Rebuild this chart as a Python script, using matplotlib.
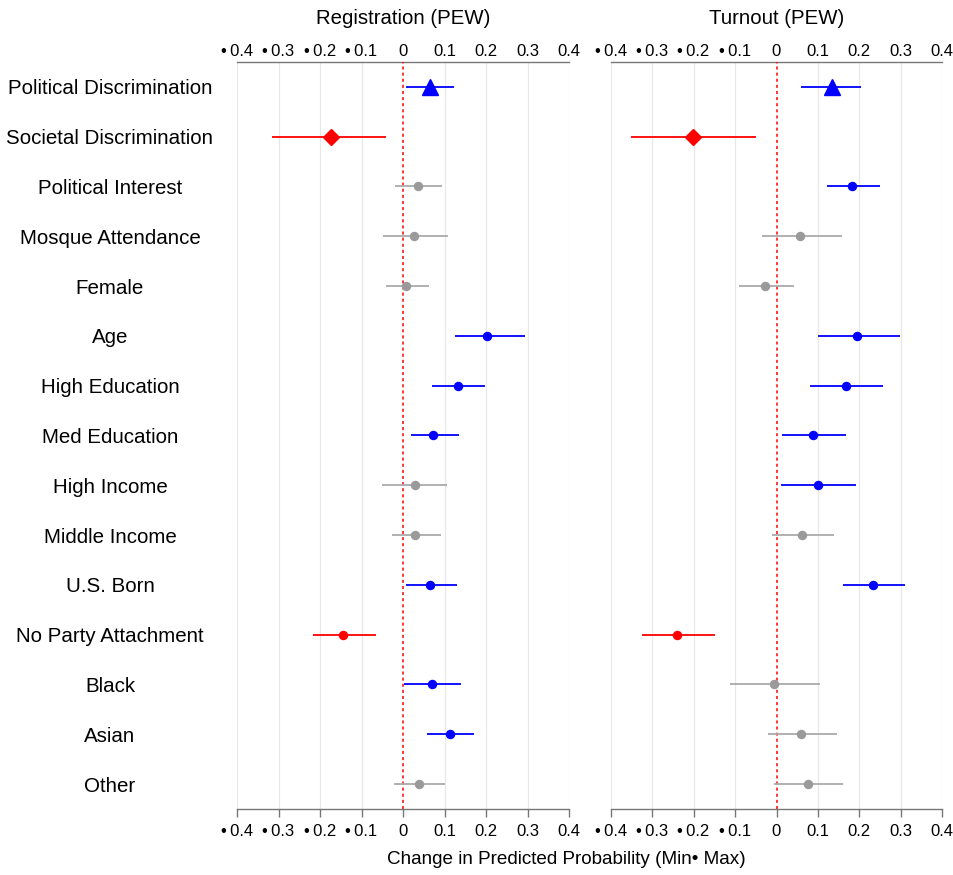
"""
Coefficient plot: registration and turnout (PEW), change in predicted probability.
"""

import matplotlib.pyplot as plt
import matplotlib.transforms as mtransforms

plt.rcParams["font.family"] = ["Liberation Sans", "DejaVu Sans"]

variables = [
    "Political Discrimination", "Societal Discrimination", "Political Interest",
    "Mosque Attendance", "Female", "Age", "High Education", "Med Education",
    "High Income", "Middle Income", "U.S. Born", "No Party Attachment",
    "Black", "Asian", "Other",
]

# Registration (PEW)
reg_est = [0.066, -0.173, 0.036, 0.027, 0.007, 0.203, 0.133, 0.072,
           0.029, 0.030, 0.064, -0.144, 0.071, 0.113, 0.038]
reg_lo = [0.007, -0.316, -0.020, -0.048, -0.040, 0.125, 0.070, 0.019,
          -0.051, -0.027, 0.007, -0.218, 0.002, 0.059, -0.022]
reg_hi = [0.123, -0.042, 0.095, 0.109, 0.062, 0.293, 0.197, 0.134,
          0.105, 0.092, 0.129, -0.065, 0.139, 0.172, 0.102]

# Turnout (PEW)
turn_est = [0.135, -0.201, 0.183, 0.056, -0.028, 0.194, 0.168, 0.087,
            0.101, 0.061, 0.232, -0.241, -0.006, 0.060, 0.075]
turn_lo = [0.060, -0.352, 0.122, -0.036, -0.090, 0.100, 0.081, 0.013,
           0.010, -0.011, 0.161, -0.325, -0.113, -0.020, -0.006]
turn_hi = [0.205, -0.049, 0.249, 0.158, 0.042, 0.299, 0.256, 0.167,
           0.192, 0.139, 0.310, -0.148, 0.105, 0.145, 0.160]

ticks = [-0.4, -0.3, -0.2, -0.1, 0, 0.1, 0.2, 0.3, 0.4]
tick_labels = ["\u2022\u20090.4", "\u2022\u20090.3", "\u2022\u20090.2",
               "\u2022\u20090.1", "0", "0.1", "0.2", "0.3", "0.4"]


def style(est, lo, hi):
    if lo > 0:
        return "blue", "blue"
    if hi < 0:
        return "red", "red"
    return "#9a9a9a", "#aaaaaa"


def draw_panel(fig, ax, est, lo, hi, title):
    for x in ticks:
        if x != 0:
            ax.axvline(x, color="#e8e8e8", lw=0.9, zorder=0)
    ax.axvline(0, color="red", lw=1.1, ls=(0, (2, 2)), zorder=1)

    for i, (e, l, h) in enumerate(zip(est, lo, hi)):
        pc, lc = style(e, l, h)
        ax.plot([l, h], [i, i], color=lc, lw=1.3, solid_capstyle="butt", zorder=2)
        if i == 0:
            ax.plot(e, i, marker="^", ms=12, color=pc, mec=pc, zorder=3)
        elif i == 1:
            ax.plot(e, i, marker="D", ms=7.8, color=pc, mec=pc, zorder=3)
        else:
            ax.plot(e, i, marker="o", ms=5.8, color=pc, mec=pc, zorder=3)

    ax.set_xlim(-0.4, 0.4)
    ax.set_ylim(len(est) - 0.5, -0.5)
    ax.set_yticks([])
    for side in ["left", "right", "top"]:
        ax.spines[side].set_visible(False)
    ax.spines["bottom"].set_color("#777777")
    ax.spines["bottom"].set_linewidth(1.0)

    ax.set_xticks(ticks)
    ax.set_xticklabels(tick_labels)
    ax.tick_params(axis="x", labelsize=12, color="#777777", width=1.0,
                   length=6, pad=5)

    top = ax.secondary_xaxis("top")
    top.set_xticks(ticks)
    top.set_xticklabels(tick_labels)
    top.tick_params(axis="x", labelsize=12, length=0, pad=2)
    top.spines["top"].set_color("#777777")
    top.spines["top"].set_linewidth(1.0)

    bbox = ax.get_position()
    fig.text((bbox.x0 + bbox.x1) / 2, 1 - 18 / 875, title, ha="center",
             va="center", fontsize=14.7)


fig = plt.figure(figsize=(9.54, 8.75), dpi=100)
ax1 = fig.add_axes([237 / 954, 1 - 809 / 875, 332 / 954, 747 / 875])
ax2 = fig.add_axes([610.7 / 954, 1 - 809 / 875, 331.6 / 954, 747 / 875])

draw_panel(fig, ax1, reg_est, reg_lo, reg_hi, "Registration (PEW)")
draw_panel(fig, ax2, turn_est, turn_lo, turn_hi, "Turnout (PEW)")

trans = mtransforms.blended_transform_factory(fig.transFigure, ax1.transData)
for i, name in enumerate(variables):
    ax1.text(110 / 954, i + 0.04, name, transform=trans, ha="center",
             va="center", fontsize=14.8)

fig.text(566 / 954, 1 - 860 / 875, "Change in Predicted Probability (Min\u2022 Max)",
         ha="center", va="center", fontsize=13.6)

fig.savefig("out.png", dpi=100)
plt.close("all")
